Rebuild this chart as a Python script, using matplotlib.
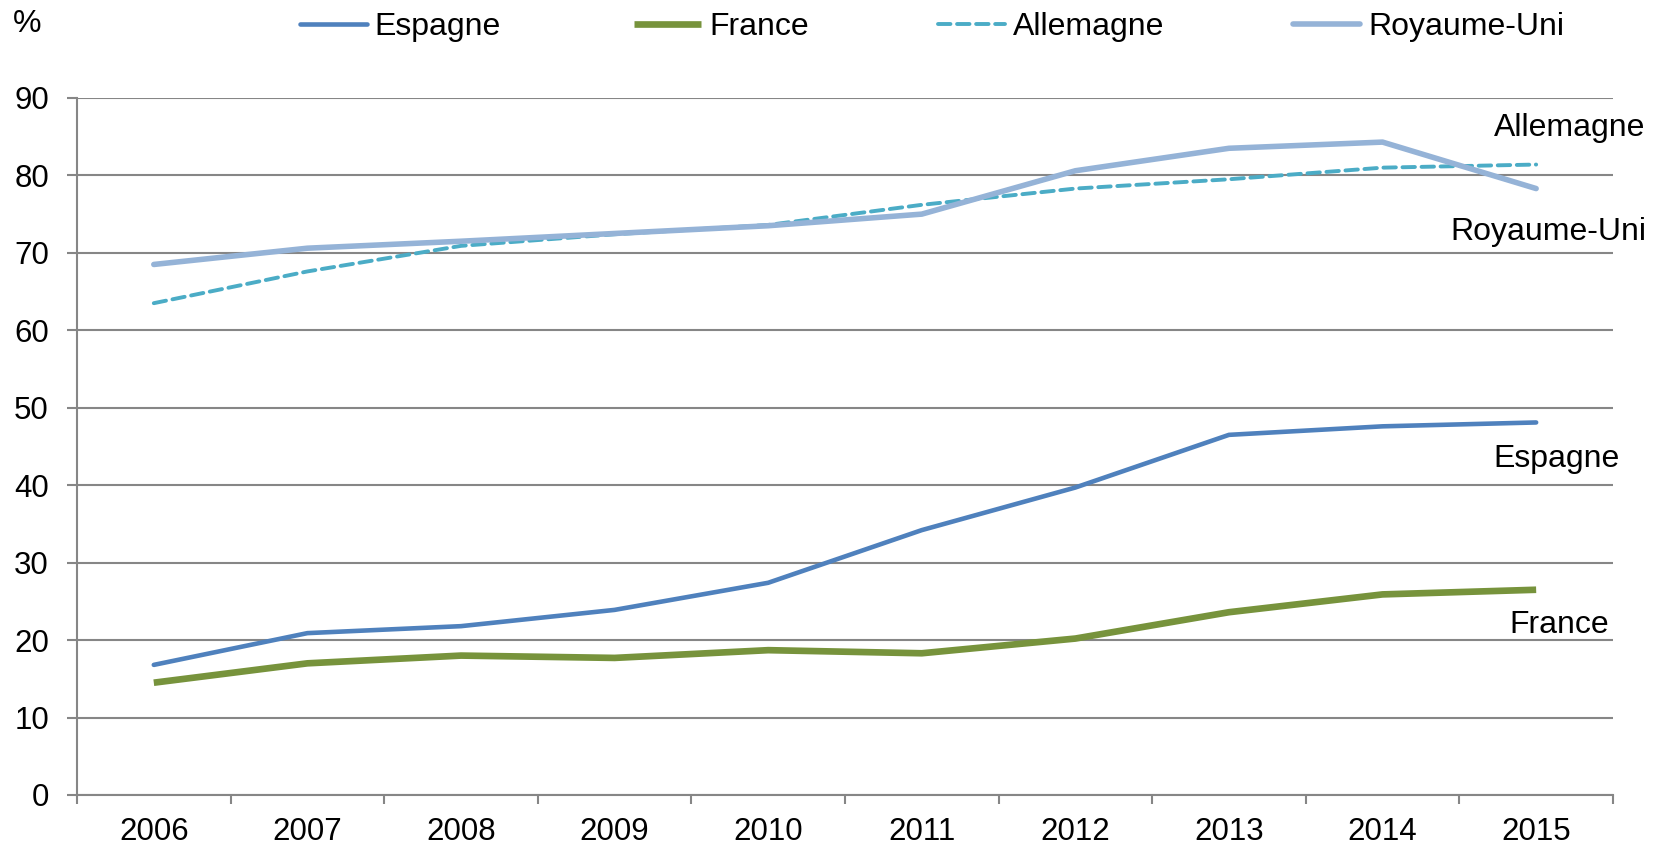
import matplotlib.pyplot as plt

plt.rcParams['font.family'] = ['Liberation Sans', 'DejaVu Sans']

# Data
years = ['2006', '2007', '2008', '2009', '2010', '2011', '2012', '2013', '2014', '2015']
espagne = [16.8, 20.9, 21.8, 23.9, 27.4, 34.2, 39.7, 46.5, 47.6, 48.1]
france = [14.5, 17.0, 18.0, 17.7, 18.7, 18.3, 20.2, 23.6, 25.9, 26.5]
allemagne = [63.5, 67.6, 70.9, 72.4, 73.6, 76.2, 78.3, 79.5, 81.0, 81.4]
royaume_uni = [68.5, 70.6, 71.5, 72.5, 73.5, 75.0, 80.6, 83.5, 84.3, 78.3]

grey = '#868686'
fs_tick = 22.5
fs_txt = 23

fig = plt.figure(figsize=(16.56, 8.48), dpi=100)
ax = fig.add_axes([0.0465, 0.0625, 0.9275, 0.822])

x = list(range(len(years)))
l1, = ax.plot(x, espagne, color='#4F81BD', lw=3.3, label='Espagne', solid_capstyle='round', zorder=3)
l2, = ax.plot(x, france, color='#77933C', lw=4.8, label='France', solid_capstyle='butt', zorder=3)
l3, = ax.plot(x, allemagne, color='#4BACC6', lw=2.8, ls=(0, (3.2, 1.7)), label='Allemagne',
              dash_capstyle='round', zorder=3)
l4, = ax.plot(x, royaume_uni, color='#95B3D7', lw=4, label='Royaume-Uni', solid_capstyle='round', zorder=3)

# Axis setup
ax.set_xlim(-0.5, len(years) - 0.5)
ax.set_ylim(0, 90)
ax.set_yticks(range(0, 91, 10))
ax.set_xticks(x)
ax.set_xticklabels(years)
ax.set_xticks([i - 0.5 for i in range(len(years) + 1)], minor=True)
ax.tick_params(axis='x', which='major', length=0, labelsize=fs_tick, pad=16)
ax.tick_params(axis='x', which='minor', length=6.5, width=1.5, color=grey, direction='out')
ax.tick_params(axis='y', length=7.2, width=1.5, color=grey, labelsize=fs_tick, pad=13)
ax.grid(axis='y', color=grey, lw=1.5, zorder=1)
ax.set_axisbelow(True)
for side in ['top', 'right']:
    ax.spines[side].set_visible(False)
for side in ['left', 'bottom']:
    ax.spines[side].set_color(grey)
    ax.spines[side].set_linewidth(1.5)

# Series labels at the right end
ax.text(9.22, 86.1, 'Allemagne', fontsize=fs_txt, ha='center', va='center', clip_on=False)
ax.text(9.08, 72.7, 'Royaume-Uni', fontsize=fs_txt, ha='center', va='center', clip_on=False)
ax.text(9.13, 43.4, 'Espagne', fontsize=fs_txt, ha='center', va='center', clip_on=False)
ax.text(9.15, 21.9, 'France', fontsize=fs_txt, ha='center', va='center', clip_on=False)

# Unit label
fig.text(0.008, 0.972, '%', fontsize=fs_txt, ha='left', va='center')

# Legend: one entry per series, placed where the reference has them
for line, x0 in [(l1, 0.181), (l2, 0.383), (l3, 0.5664), (l4, 0.781)]:
    fig.legend(handles=[line], loc='center left', bbox_to_anchor=(x0, 0.968), frameon=False,
               fontsize=fs_txt, handlelength=2.1, handletextpad=0.25, borderpad=0,
               borderaxespad=0)

plt.savefig('out.png')
